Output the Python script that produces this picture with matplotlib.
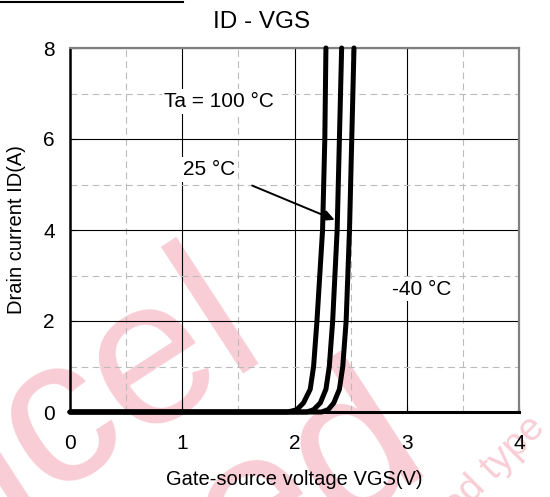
import matplotlib
matplotlib.use("Agg")
import matplotlib.pyplot as plt
from matplotlib.lines import Line2D

plt.rcParams['font.family'] = ['Liberation Sans', 'DejaVu Sans']

# drain current points (A) and gate voltages (V)
id_pts = [0, 0, 0.05, 0.2, 0.5, 1, 2, 4, 6, 8]
vgs_100 = [0, 1.94, 2.02, 2.08, 2.14, 2.17, 2.20, 2.25, 2.27, 2.28]
vgs_25 = [0, 2.11, 2.17, 2.23, 2.28, 2.31, 2.34, 2.38, 2.40, 2.42]
vgs_m40 = [0, 2.24, 2.30, 2.35, 2.40, 2.43, 2.46, 2.49, 2.51, 2.53]

x_ticks = [0, 1, 2, 3, 4]
y_ticks = [0, 2, 4, 6, 8]

fig = plt.figure(figsize=(5.5, 4.97), dpi=100)
ax = fig.add_axes([70/550, 1-412/497, 449/550, 364/497])
ax.patch.set_facecolor('none')

# watermark behind the chart
pink = '#f8cdd6'
fig.text(-0.095, -0.12, 'ncel', fontsize=150, color=pink, rotation=33,
         rotation_mode='anchor', ha='left', va='baseline', zorder=-5)
fig.text(0.436, -0.187, 'ed', fontsize=150, color=pink, rotation=33,
         rotation_mode='anchor', ha='left', va='baseline', zorder=-5)
fig.text(0.83, -0.045, 'ed type', fontsize=28, color=pink, rotation=45,
         rotation_mode='anchor', ha='left', va='baseline', zorder=-5)

for v in [vgs_100, vgs_25, vgs_m40]:
    ax.plot(v, id_pts, color='black', lw=3.6, solid_joinstyle='round',
            solid_capstyle='round', zorder=4, clip_on=False)

ax.set_xlim(0, 4)
ax.set_ylim(0, 8)
ax.set_xticks(x_ticks)
ax.set_yticks(y_ticks)
ax.set_xticks([0.5, 1.5, 2.5, 3.5], minor=True)
ax.set_yticks([1, 3, 5, 7], minor=True)
ax.grid(True, which='major', color='black', lw=0.8, zorder=1)
ax.grid(True, which='minor', color='#bbbbbb', lw=0.8, linestyle=(0, (6, 4)), zorder=1)
ax.set_axisbelow(True)
ax.tick_params(which='major', direction='in', length=4, labelsize=15)
ax.tick_params(axis='x', pad=16)
ax.tick_params(axis='y', pad=11)
ax.tick_params(which='minor', length=0)

for s in ['top', 'right']:
    ax.spines[s].set_color('#808080')
    ax.spines[s].set_linewidth(1.6)
ax.spines['left'].set_linewidth(1.8)
ax.spines['bottom'].set_linewidth(2.2)

ax.set_xlabel('Gate-source voltage VGS(V)', fontsize=14.5, labelpad=12)
ax.set_ylabel('Drain current ID(A)', fontsize=14.5, labelpad=12)
fig.text(262/550, 1-22/497, 'ID - VGS', fontsize=17.5, ha='center', va='center')

box = dict(facecolor='white', edgecolor='none', pad=2)
ax.text(1.33, 6.82, 'Ta = 100 °C', fontsize=15, ha='center', va='center', bbox=box, zorder=3)
ax.text(1.24, 5.33, '25 °C', fontsize=15, ha='center', va='center', bbox=box, zorder=3)
ax.text(3.13, 2.70, '-40 °C', fontsize=15, ha='center', va='center', bbox=box, zorder=3)
ax.annotate('', xy=(2.38, 4.2), xytext=(1.6, 5.0),
            arrowprops=dict(arrowstyle='-|>', color='black', lw=1.4, mutation_scale=16),
            zorder=5)

# cut-off rule at the top left
fig.add_artist(Line2D([0, 183/550], [1-1.5/497, 1-1.5/497], color='black', lw=1.5))

fig.savefig('out.png', dpi=100)
